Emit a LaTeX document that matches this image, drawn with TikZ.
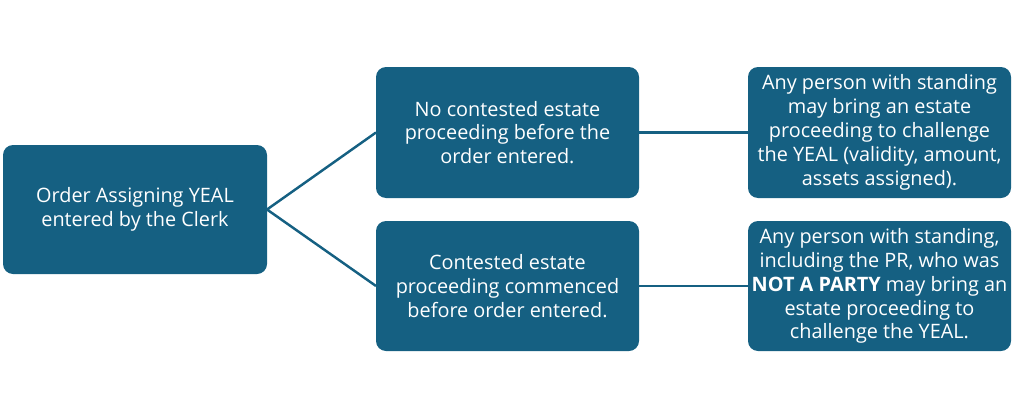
\documentclass[tikz,border=0pt]{standalone}
\usepackage{fontspec}
\setmainfont{Open Sans}
\definecolor{boxblue}{HTML}{156082}
\begin{document}
\begin{tikzpicture}[x=0.02cm,y=-0.02cm,
  box/.style={fill=boxblue,rounded corners=0.2cm,text=white,align=center,
    font=\fontsize{11.3}{13.6}\selectfont,inner sep=0pt},
  conn/.style={draw=boxblue,line width=1.4pt}]
\useasboundingbox (0,0) rectangle (1024,419);
\path[box] (3,145) rectangle (267,274);
\node[box] (a) at (135,209.5) {Order Assigning YEAL\\entered by the Clerk};
\path[box] (376,67) rectangle (639,198);
\node[box] (b) at (507.5,132.5) {No contested estate\\proceeding before the\\order entered.};
\path[box] (376,221) rectangle (639,351);
\node[box] (c) at (507.5,286) {Contested estate\\proceeding commenced\\before order entered.};
\path[box] (748,67) rectangle (1011,198);
\node[box] (d) at (879.5,132.5) {Any person with standing\\may bring an estate\\proceeding to challenge\\the YEAL (validity, amount,\\assets assigned).};
\path[box] (748,221) rectangle (1011,351);
\node[box] (e) at (879.5,286) {Any person with standing,\\including the PR, who was\\\textbf{NOT A PARTY} may bring an\\estate proceeding to\\challenge the YEAL.};
\coordinate (aR) at (267,209.5);
\coordinate (bL) at (376,132.5);
\coordinate (cL) at (376,286);
\coordinate (bR) at (639,132.5);
\coordinate (dL) at (748,132.5);
\coordinate (cR) at (639,286);
\coordinate (eL) at (748,286);
\draw[conn] (bL) -- (aR) -- (cL);
\draw[conn] (bR) -- (dL);
\draw[conn] (cR) -- (eL);
\end{tikzpicture}
\end{document}
